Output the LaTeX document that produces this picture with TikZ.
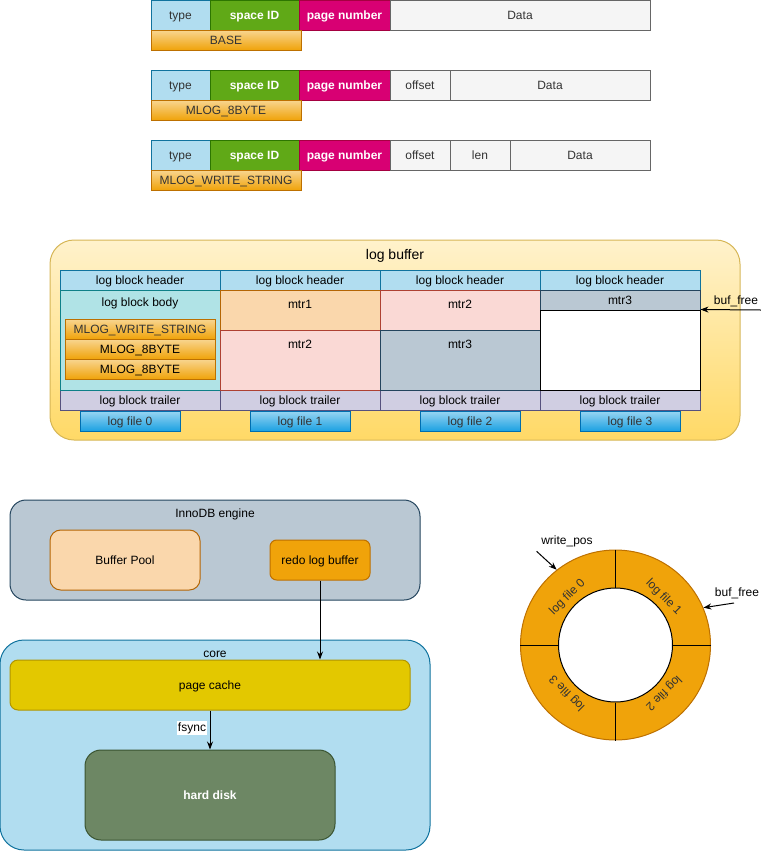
\documentclass[tikz,border=0pt]{standalone}
\usepackage{fontspec}
\setmainfont{Liberation Sans}
\usetikzlibrary{arrows.meta}

\definecolor{hdrfill}{HTML}{B1DDF0}
\definecolor{hdredge}{HTML}{10739E}
\definecolor{sidfill}{HTML}{60A917}
\definecolor{sidedge}{HTML}{2D7600}
\definecolor{pnofill}{HTML}{D80073}
\definecolor{pnoedge}{HTML}{A50040}
\definecolor{datafill}{HTML}{F5F5F5}
\definecolor{dataedge}{HTML}{666666}
\definecolor{darktext}{HTML}{333333}
\definecolor{mlogfill}{HTML}{F0A30A}
\definecolor{mlogedge}{HTML}{BD7000}
\definecolor{bodyfill}{HTML}{B0E3E6}
\definecolor{bodyedge}{HTML}{0E8088}
\definecolor{peachfill}{HTML}{FAD7AC}
\definecolor{peachedge}{HTML}{B46504}
\definecolor{rosefill}{HTML}{FAD9D5}
\definecolor{roseedge}{HTML}{AE4132}
\definecolor{slatefill}{HTML}{BAC8D3}
\definecolor{slateedge}{HTML}{23445D}
\definecolor{trlfill}{HTML}{D0CEE2}
\definecolor{trledge}{HTML}{56517E}
\definecolor{filefill}{HTML}{1BA1E2}
\definecolor{fileedge}{HTML}{006EAF}
\definecolor{buftop}{HTML}{FFF2CC}
\definecolor{bufbot}{HTML}{FFD966}
\definecolor{bufedge}{HTML}{D6B656}
\definecolor{cachefill}{HTML}{E3C800}
\definecolor{cacheedge}{HTML}{B09500}
\definecolor{diskfill}{HTML}{6D8764}
\definecolor{diskedge}{HTML}{3A5431}

\tikzset{
  cellbox/.style={draw, rectangle, inner sep=0pt, line width=0.75pt, text height=1.6ex, text depth=0.4ex},
  bw/.style={minimum width=#1*0.75pt},
  bh/.style={minimum height=#1*0.75pt},
  glossy/.style={top color=white!55!#1, middle color=#1, bottom color=#1},
  datacell/.style={cellbox, fill=datafill, draw=dataedge, text=darktext, bh=30},
  arr/.style={-{Stealth[length=6pt, width=4.5pt]}, line width=0.75pt},
}

\begin{document}
\begin{tikzpicture}[x=0.75pt, y=-0.75pt, font=\fontsize{9}{11}\selectfont]
    \useasboundingbox (0,0) rectangle (761,851);

    % Record formats
    \foreach \y/\n/\t in {15/1/BASE, 85/2/MLOG\_8BYTE, 155/3/MLOG\_WRITE\_STRING} {
        \node[cellbox, bw=59, bh=30, fill=hdrfill, draw=hdredge, text=darktext] (type\n) at (180.5,\y) {type};
        \node[cellbox, bw=89, bh=30, fill=sidfill, draw=sidedge, text=white, font=\fontsize{9}{11}\selectfont\bfseries] (sid\n) at (254.5,\y) {space ID};
        \node[cellbox, bw=91, bh=30, fill=pnofill, draw=pnoedge, text=white, font=\fontsize{9}{11}\selectfont\bfseries] (pno\n) at (344.5,\y) {page number};
        \node[cellbox, bw=150, bh=20, glossy=mlogfill, draw=mlogedge, text=darktext] (bar\n) at (226,{\y+25}) {\t};
    }
    \node[datacell, bw=260] (data1) at (520,15) {Data};
    \node[datacell, bw=60] (off2) at (420,85) {offset};
    \node[datacell, bw=200] (data2) at (550,85) {Data};
    \node[datacell, bw=60] (off3) at (420,155) {offset};
    \node[datacell, bw=60] (len3) at (480,155) {len};
    \node[datacell, bw=140] (data3) at (580,155) {Data};

    % Log buffer
    \node[draw=bufedge, top color=buftop, bottom color=bufbot, rounded corners=18pt, line width=0.75pt, bw=690, bh=200] (logbuf) at (395,340) {};
    \node[font=\fontsize{10.5}{12}\selectfont] (lbtitle) at (395,256) {log buffer};
    \foreach \i/\x in {0/140, 1/300, 2/460, 3/620} {
        \node[cellbox, bw=160, bh=20, fill=hdrfill, draw=hdredge] (hdr\i) at (\x,280) {log block header};
        \node[cellbox, bw=160, bh=20, fill=trlfill, draw=trledge] (trl\i) at (\x,400) {log block trailer};
    }
    % block 0
    \node[cellbox, bw=160, bh=100, fill=bodyfill, draw=bodyedge] (body) at (140,340) {};
    \node (bodytxt) at (140,303) {log block body};
    \node[cellbox, bw=150, bh=20, glossy=mlogfill, draw=mlogedge, text=darktext] (wstr) at (140,329) {MLOG\_WRITE\_STRING};
    \node[cellbox, bw=150, bh=20, glossy=mlogfill, draw=mlogedge] (byte8a) at (140,349) {MLOG\_8BYTE};
    \node[cellbox, bw=150, bh=20, glossy=mlogfill, draw=mlogedge] (byte8b) at (140,369) {MLOG\_8BYTE};
    % block 1
    \node[cellbox, bw=160, bh=40, fill=peachfill, draw=peachedge] (mtra) at (300,310) {};
    \node[cellbox, bw=160, bh=60, fill=rosefill, draw=roseedge] (mtrb) at (300,360) {};
    \node (mtratxt) at (300,304) {mtr1};
    \node (mtrbtxt) at (300,344) {mtr2};
    % block 2
    \node[cellbox, bw=160, bh=40, fill=rosefill, draw=roseedge] (mtrc) at (460,310) {};
    \node[cellbox, bw=160, bh=60, fill=slatefill, draw=slateedge] (mtrd) at (460,360) {};
    \node (mtrctxt) at (460,304) {mtr2};
    \node (mtrdtxt) at (460,344) {mtr3};
    % block 3
    \node[cellbox, bw=160, bh=20, fill=slatefill, draw=slateedge] (mtre) at (620,300) {mtr3};
    \node[cellbox, bw=160, bh=80, fill=white, draw=black] (free) at (620,350) {};
    \foreach \i/\x in {0/130, 1/300, 2/470, 3/630}
        \node[cellbox, bw=100, bh=20, glossy=filefill, draw=fileedge, text=darktext] (file\i) at (\x,421) {log file \i};
    \coordinate (bfa) at (761,310);
    \draw[arr] (bfa) -- (free.north east);
    \node (bftxt) at (736,301) {buf\_free};

    % InnoDB engine and core
    \node[cellbox, bw=410, bh=100, fill=slatefill, draw=slateedge, rounded corners=12pt] (inno) at (215,550) {};
    \node (innotxt) at (215,514) {InnoDB engine};
    \node[cellbox, bw=150, bh=60, fill=peachfill, draw=peachedge, rounded corners=8pt] (pool) at (125,560) {Buffer Pool};
    \node[cellbox, bw=100, bh=40, fill=mlogfill, draw=mlogedge, rounded corners=5pt] (redo) at (320,560) {redo log buffer};
    \node[cellbox, bw=430, bh=210, fill=hdrfill, draw=hdredge, rounded corners=18pt] (core) at (215,745) {};
    \node (coretxt) at (215,654) {core};
    \node[cellbox, bw=400, bh=50, fill=cachefill, draw=cacheedge, rounded corners=6pt] (cache) at (210,685) {page cache};
    \node[cellbox, bw=250, bh=90, fill=diskfill, draw=diskedge, rounded corners=12pt, text=white, font=\fontsize{9}{11}\selectfont\bfseries] (disk) at (210,795) {hard disk};
    \draw[arr] (redo.south) -- (redo.south |- cache.north);
    \draw[arr] (cache.south) -- (disk.north);
    \node[fill=white, inner sep=1pt] (fsync) at (192,728) {fsync};

    % Log file ring
    \node[circle, draw=mlogedge, fill=mlogfill, line width=0.75pt, inner sep=0pt, minimum size=190*0.75pt] (ring) at (615.5,645) {};
    \node[circle, draw=black, fill=white, line width=0.75pt, inner sep=0pt, minimum size=114*0.75pt] (hole) at (615.5,645) {};
    \foreach \a in {north, south, east, west}
        \draw[line width=0.75pt] (ring.\a) -- (hole.\a);
    \node[rotate=45, text=darktext] (lf0) at (567.5,597) {log file 0};
    \node[rotate=-45, text=darktext] (lf1) at (663.5,597) {log file 1};
    \node[rotate=-135, text=darktext] (lf2) at (663.5,693) {log file 2};
    \node[rotate=135, text=darktext] (lf3) at (567.5,693) {log file 3};
    \node (wp) at (567,541) {write\_pos};
    \draw[arr] (wp.south west) -- (ring.128);
    \node (bf2) at (737,593) {buf\_free};
    \coordinate (bf2a) at (734,603);
    \draw[arr] (bf2a) -- (ring.23);
\end{tikzpicture}
\end{document}
